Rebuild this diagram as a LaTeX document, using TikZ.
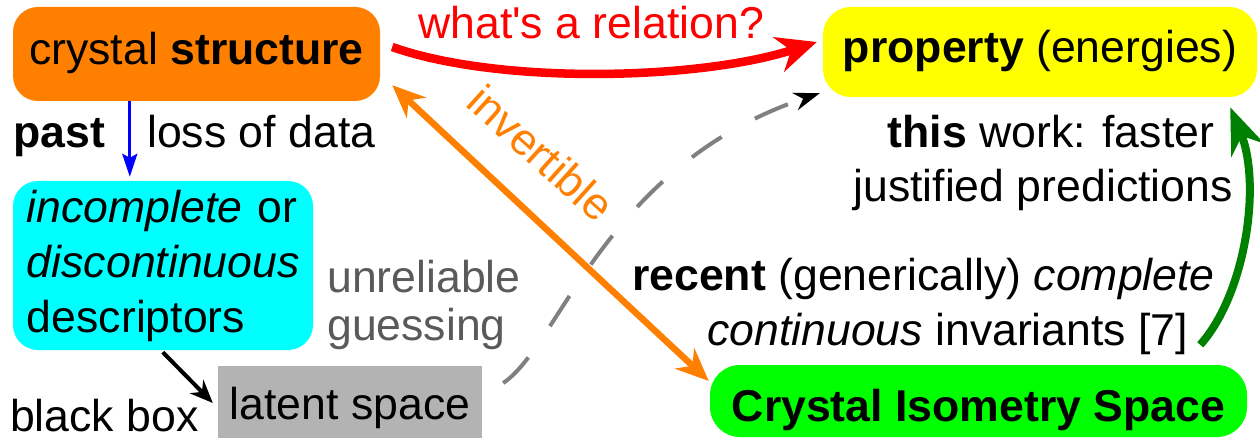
\documentclass[tikz,border=0pt]{standalone}
\usepackage{fontspec}
\setmainfont{Liberation Sans}
\usetikzlibrary{arrows.meta,calc}
\definecolor{cOrange}{RGB}{255,128,0}
\definecolor{cYellow}{RGB}{255,255,0}
\definecolor{cCyan}{RGB}{0,255,255}
\definecolor{cGreen}{RGB}{0,255,0}
\definecolor{cDkGreen}{RGB}{0,128,0}
\definecolor{cGrayBox}{RGB}{179,179,179}
\definecolor{cGrayText}{RGB}{90,90,90}
\definecolor{cDash}{RGB}{128,128,128}
\definecolor{cRed}{RGB}{255,0,0}
\definecolor{cBlue}{RGB}{0,0,255}
\begin{document}
\begin{tikzpicture}[x=1pt,y=-1pt,
  every node/.style={font=\fontsize{44.6}{55}\selectfont, inner sep=0pt},
  lbl/.style={anchor=base west},
  clbl/.style={anchor=base},
  basebox/.style={anchor=base, inner xsep=0pt, inner ysep=0pt}
]
\useasboundingbox (0,0) rectangle (1260,438);

% boxes
\node[basebox, fill=cOrange, rounded corners=25pt, minimum width=367pt,
      text height=58pt, text depth=36pt] (cs) at (196.5,65) {crystal \textbf{structure}};
\node[basebox, fill=cYellow, rounded corners=28pt, minimum width=434pt,
      text height=56pt, text depth=34pt] (prop) at (1040,63) {\textbf{property} (energies)};
\node[fill=cCyan, rounded corners=25pt, text width=272pt, inner xsep=14pt, inner ysep=0pt,
      minimum height=169pt, align=left] (desc) at (163,265.5)
      {\textit{incomplete} or\\\textit{discontinuous}\\descriptors};
\node[basebox, fill=cGrayBox, minimum width=264pt,
      text height=53pt, text depth=19pt] (latent) at (350,419) {latent space};
\node[basebox, fill=cGreen, rounded corners=30pt, minimum width=537pt,
      text height=56pt, text depth=16pt] (cis) at (978.5,421) {\textbf{Crystal Isometry Space}};

% free texts
\node[lbl] (past) at (13,148) {\textbf{past}};
\node[lbl] (loss) at (147,148) {loss of data};
\node[lbl, text=cRed] (rel) at (418,39) {what\textquotesingle s a relation?};
\node[text=cOrange, rotate=-42] (inv) at (541,153) {invertible};
\node[lbl, text=cGrayText] (unrel) at (327,292) {unreliable};
\node[lbl, text=cGrayText] (guess) at (327,340) {guessing};
\node[lbl, text depth=0pt] (bb) at (10,431) {black box};
\node[clbl] (thisw) at (1051,148) {\textbf{this} work: faster};
\node[clbl] (just) at (1043,202) {justified predictions};
\node[lbl] (recent) at (632,290) {\textbf{recent} (generically) \textit{complete}};
\node[lbl] (cont) at (707,345) {\textit{continuous} invariants [7]};

% connector end points
\coordinate (blueS) at ($(cs.south west)+(117,0)$);
\coordinate (blueE) at ($(desc.north west)+(117,-4)$);
\coordinate (redS) at ($(cs.east)+(12,-7)$);
\coordinate (redE) at ($(prop.west)+(-6,-10)$);
\coordinate (orS) at ($(cs.south east)+(12,-16)$);
\coordinate (orE) at ($(cis.west)+(-1,-20)$);
\coordinate (dS) at ($(latent.east)+(21,-19)$);
\coordinate (dE) at ($(prop.south west)+(-3,-4)$);
\coordinate (bS) at ($(desc.south west)+(150,2)$);
\coordinate (bE) at ($(latent.west)+(-5,1)$);
\coordinate (gS) at ($(cis.north east)+(-47,-20)$);
\coordinate (gE) at ($(prop.south east)+(-27,10)$);

% connectors
\draw[cBlue, line width=3pt, -{Stealth[length=23pt,width=15pt,inset=4pt]}] (blueS) -- (blueE);
\draw[cRed, line width=8.5pt, -{Stealth[length=40pt,width=36pt]}]
  (redS) .. controls (500,85) and (700,80) .. (redE);
\draw[cOrange, line width=6.5pt, {Stealth[length=33pt,width=28pt]}-{Stealth[length=33pt,width=28pt]}]
  (orS) -- (orE);
\draw[cDash, line width=4pt, dash pattern=on 36pt off 38pt, -{Stealth[black,length=26pt,width=18pt]}]
  (dS) .. controls (560,345) and (605,165) .. (dE);
\draw[black, line width=4pt, -{Stealth[length=23pt,width=19pt]}] (bS) -- (bE);
\draw[cDkGreen, line width=8pt, -{Stealth[length=46pt,width=35pt]}]
  (gS) .. controls (1245,295) and (1262,185) .. (gE);
\end{tikzpicture}
\end{document}
